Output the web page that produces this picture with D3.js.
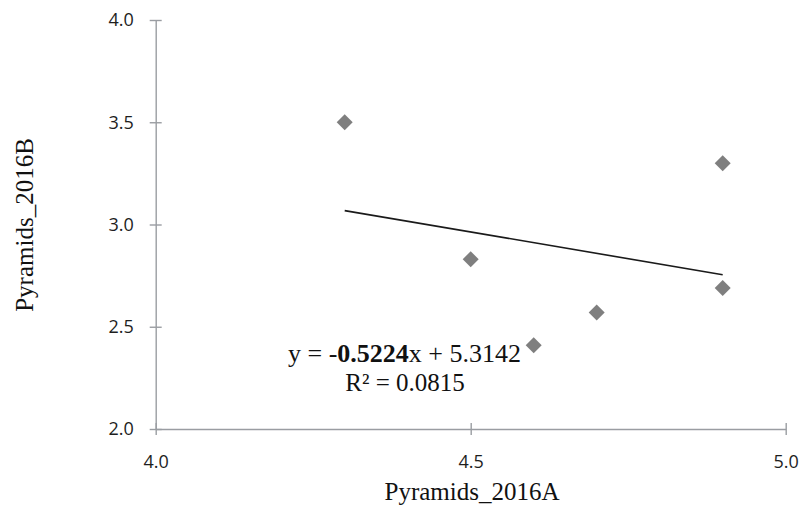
<!DOCTYPE html>
<html>
<head>
<meta charset="utf-8">
<script src="https://cdn.jsdelivr.net/npm/d3@7"></script>
<style>
  html, body { margin: 0; padding: 0; background: #fff; }
</style>
</head>
<body>
<script>
const WIDTH = 803;
const HEIGHT = 510;

// data
const xValues = [4.3, 4.5, 4.6, 4.7, 4.9, 4.9];
const yValues = [3.5, 2.83, 2.41, 2.57, 3.3, 2.69];
const xTicks = [4.0, 4.5, 5.0];
const yTicks = [2.0, 2.5, 3.0, 3.5, 4.0];
const trendCoef = [-0.5224, 5.3142]; // slope, intercept
const rSquared = '0.0815';

const AXIS = '#9a9da2';
const MARK = '#7f7f7f';
const SANS = '"Open Sans", "Noto Sans", sans-serif';
const SERIF = '"Liberation Serif", "Times New Roman", serif';

const svg = d3.select('body').append('svg')
  .attr('width', WIDTH)
  .attr('height', HEIGHT)
  .attr('viewBox', `0 0 ${WIDTH} ${HEIGHT}`);

const x = d3.scaleLinear().domain([4.0, 5.0]).range([155.7, 785.7]);
const y = d3.scaleLinear().domain([2.0, 4.0]).range([429, 20]);

// axes
const xAxis = svg.append('g')
  .attr('transform', `translate(0,${y(2.0)})`)
  .call(d3.axisBottom(x).tickValues(xTicks).tickFormat(d3.format('.1f')).tickSizeInner(6).tickSizeOuter(0).tickPadding(20));
xAxis.selectAll('.tick line').attr('y1', -6);

const yAxis = svg.append('g')
  .attr('transform', `translate(${x(4.0)},0)`)
  .call(d3.axisLeft(y).tickValues(yTicks).tickFormat(d3.format('.1f')).tickSizeInner(6).tickSizeOuter(0).tickPadding(16));
yAxis.selectAll('.tick line').attr('x1', 6);

[xAxis, yAxis].forEach(a => {
  a.select('.domain').attr('stroke', AXIS).attr('stroke-width', 1.4);
  a.selectAll('.tick line').attr('stroke', AXIS).attr('stroke-width', 1.4);
  a.selectAll('.tick text')
    .attr('fill', '#1e1e1e')
    .attr('font-size', 18)
    .attr('font-family', SANS);
});
xAxis.selectAll('.tick text').attr('dy', '0.71em');

// trendline
const trendX = d3.extent(xValues);
svg.append('line')
  .attr('x1', x(trendX[0]))
  .attr('y1', y(trendCoef[0] * trendX[0] + trendCoef[1]))
  .attr('x2', x(trendX[1]))
  .attr('y2', y(trendCoef[0] * trendX[1] + trendCoef[1]))
  .attr('stroke', '#1a1a1a')
  .attr('stroke-width', 1.6);

// points
const pts = xValues.map((v, i) => ({ x: v, y: yValues[i] }));
svg.append('g').selectAll('path')
  .data(pts)
  .join('path')
  .attr('transform', d => `translate(${x(d.x)},${y(d.y)})`)
  .attr('d', 'M0,-8L8,0L0,8L-8,0Z')
  .attr('fill', MARK);

// equation
const eq = svg.append('text')
  .attr('x', 288)
  .attr('y', 362)
  .attr('font-family', SERIF)
  .attr('font-size', 26)
  .attr('fill', '#111');
eq.append('tspan').text('y = -');
eq.append('tspan').attr('font-weight', 700).text(Math.abs(trendCoef[0]).toFixed(4));
eq.append('tspan').text(`x + ${trendCoef[1].toFixed(4)}`);

svg.append('text')
  .attr('x', 405)
  .attr('y', 391)
  .attr('text-anchor', 'middle')
  .attr('font-family', SERIF)
  .attr('font-size', 25)
  .attr('fill', '#111')
  .text(`R² = ${rSquared}`);

// axis titles
svg.append('text')
  .attr('x', 472)
  .attr('y', 500)
  .attr('text-anchor', 'middle')
  .attr('font-family', SERIF)
  .attr('font-size', 25)
  .attr('fill', '#111')
  .text('Pyramids_2016A');

svg.append('text')
  .attr('transform', 'translate(33,225) rotate(-90)')
  .attr('text-anchor', 'middle')
  .attr('font-family', SERIF)
  .attr('font-size', 25)
  .attr('fill', '#111')
  .text('Pyramids_2016B');
</script>
</body>
</html>
